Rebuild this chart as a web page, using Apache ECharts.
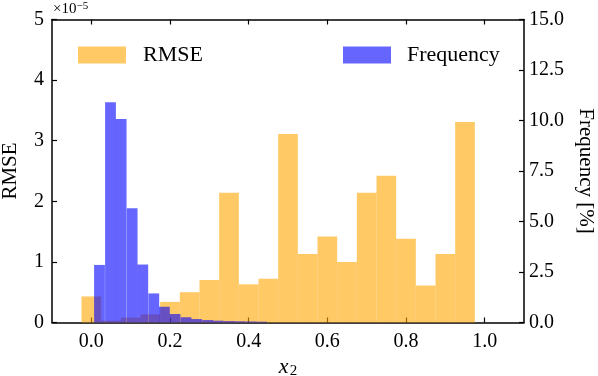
<!DOCTYPE html>
<html>
<head>
<meta charset="utf-8">
<script src="https://cdn.jsdelivr.net/npm/echarts@6/dist/echarts.min.js"></script>
<style>
  html, body { margin: 0; padding: 0; background: #fff; }
  #chart { width: 598px; height: 376px; }
</style>
</head>
<body>
<div id="chart"></div>
<script>
// RMSE histogram (left axis, x1e-5), bins centred on these x values
const rmseCenters = [0.00, 0.05, 0.10, 0.15, 0.20, 0.25, 0.30, 0.35, 0.40, 0.45,
                     0.50, 0.55, 0.60, 0.65, 0.70, 0.75, 0.80, 0.85, 0.90, 0.95]
const rmseValues = [0.43, 0.03, 0.08, 0.135, 0.34, 0.50, 0.70, 2.14, 0.63, 0.72,
                    3.11, 1.13, 1.42, 1.00, 2.14, 2.42, 1.38, 0.61, 1.13, 3.31]
const rmseBinWidth = 0.05

// frequency histogram (right axis, %), left edges of the bins
const freqBinLeft = [0.007, 0.035, 0.062, 0.090, 0.117, 0.145, 0.172, 0.199,
                     0.227, 0.254, 0.282, 0.309, 0.337, 0.364, 0.392, 0.419]
const freqValues = [2.85, 10.9, 10.07, 5.66, 2.87, 1.44, 0.78, 0.42,
                    0.26, 0.17, 0.12, 0.09, 0.07, 0.06, 0.05, 0.04]
const freqBinWidth = 0.0275

// tick labels
const xTicks = [0.0, 0.2, 0.4, 0.6, 0.8, 1.0]

const FONT = "'Liberation Serif', 'DejaVu Serif', serif"
const orange = 'rgba(255,165,0,0.6)'
const blue = 'rgba(0,0,255,0.6)'

function histRender (leftOf, width) {
  return function (params, api) {
    const x0 = leftOf(api.value(0))
    const p0 = api.coord([x0, api.value(1)])
    const p1 = api.coord([x0 + width, 0])
    return {
      type: 'rect',
      shape: { x: p0[0], y: p0[1], width: p1[0] - p0[0], height: p1[1] - p0[1] },
      style: { fill: api.visual('color') }
    }
  }
}

const chart = echarts.init(document.getElementById('chart'))
const tickStyle = { inside: true, length: 5, lineStyle: { color: '#000', width: 1.2 } }
const lineStyle = { show: true, onZero: false, lineStyle: { color: '#000', width: 1.5 } }

chart.setOption({
  animation: false,
  grid: { left: 52, right: 74, top: 19.5, bottom: 53.5, outerBoundsMode: 'none', containLabel: false },
  legend: [
    {
      data: ['RMSE'], left: 73, top: 39, icon: 'rect',
      itemWidth: 48, itemHeight: 17,
      textStyle: { fontFamily: FONT, fontSize: 22, color: '#000', padding: [0, 0, 0, 12] }
    },
    {
      data: ['Frequency'], left: 338, top: 39, icon: 'rect',
      itemWidth: 48, itemHeight: 17,
      textStyle: { fontFamily: FONT, fontSize: 22, color: '#000', padding: [0, 0, 0, 11] }
    }
  ],
  xAxis: [
    {
      type: 'value', min: -0.1, max: 1.1, position: 'bottom',
      splitLine: { show: false },
      axisLine: lineStyle,
      axisTick: Object.assign({ customValues: xTicks }, tickStyle),
      axisLabel: {
        customValues: xTicks, margin: 9,
        formatter: v => v.toFixed(1),
        fontFamily: FONT, fontSize: 20, color: '#000'
      },
      name: '{i|x}{s|2}', nameLocation: 'middle', nameGap: 31,
      nameTextStyle: {
        rich: {
          i: { fontFamily: FONT, fontStyle: 'italic', fontSize: 22, color: '#000' },
          s: { fontFamily: FONT, fontSize: 15, color: '#000', verticalAlign: 'bottom', padding: [6, 0, 0, 1] }
        }
      }
    },
    {
      type: 'value', min: -0.1, max: 1.1, position: 'top',
      splitLine: { show: false },
      axisLine: lineStyle,
      axisTick: Object.assign({ customValues: xTicks }, tickStyle),
      axisLabel: { show: false }
    }
  ],
  yAxis: [
    {
      type: 'value', min: 0, max: 5, interval: 1, position: 'left',
      splitLine: { show: false },
      axisLine: lineStyle,
      axisTick: tickStyle,
      axisLabel: { margin: 8, fontFamily: FONT, fontSize: 20, color: '#000' },
      name: 'RMSE', nameLocation: 'middle', nameGap: 31, nameRotate: 90,
      nameTextStyle: { fontFamily: FONT, fontSize: 21, color: '#000' }
    },
    {
      type: 'value', min: 0, max: 15, interval: 2.5, position: 'right',
      splitLine: { show: false },
      axisLine: lineStyle,
      axisTick: tickStyle,
      axisLabel: { margin: 5, formatter: v => v.toFixed(1), fontFamily: FONT, fontSize: 20, color: '#000' },
      name: 'Frequency [%]', nameLocation: 'middle', nameGap: 51, nameRotate: -90,
      nameTextStyle: { fontFamily: FONT, fontSize: 21, color: '#000' }
    }
  ],
  graphic: [
    {
      type: 'text', left: 53, top: 1,
      style: {
        text: '×10{s|−5}',
        font: '15px ' + FONT, fill: '#000',
        rich: { s: { fontFamily: FONT, fontSize: 11, verticalAlign: 'top', padding: [0, 0, 6, 0], fill: '#000' } }
      }
    }
  ],
  series: [
    {
      name: 'RMSE', type: 'custom', xAxisIndex: 0, yAxisIndex: 0,
      itemStyle: { color: orange },
      renderItem: histRender(c => c - rmseBinWidth / 2, rmseBinWidth),
      data: rmseCenters.map((c, i) => [c, rmseValues[i]])
    },
    {
      name: 'Frequency', type: 'custom', xAxisIndex: 0, yAxisIndex: 1,
      itemStyle: { color: blue },
      renderItem: histRender(l => l, freqBinWidth),
      data: freqBinLeft.map((l, i) => [l, freqValues[i]])
    }
  ]
})
</script>
</body>
</html>
